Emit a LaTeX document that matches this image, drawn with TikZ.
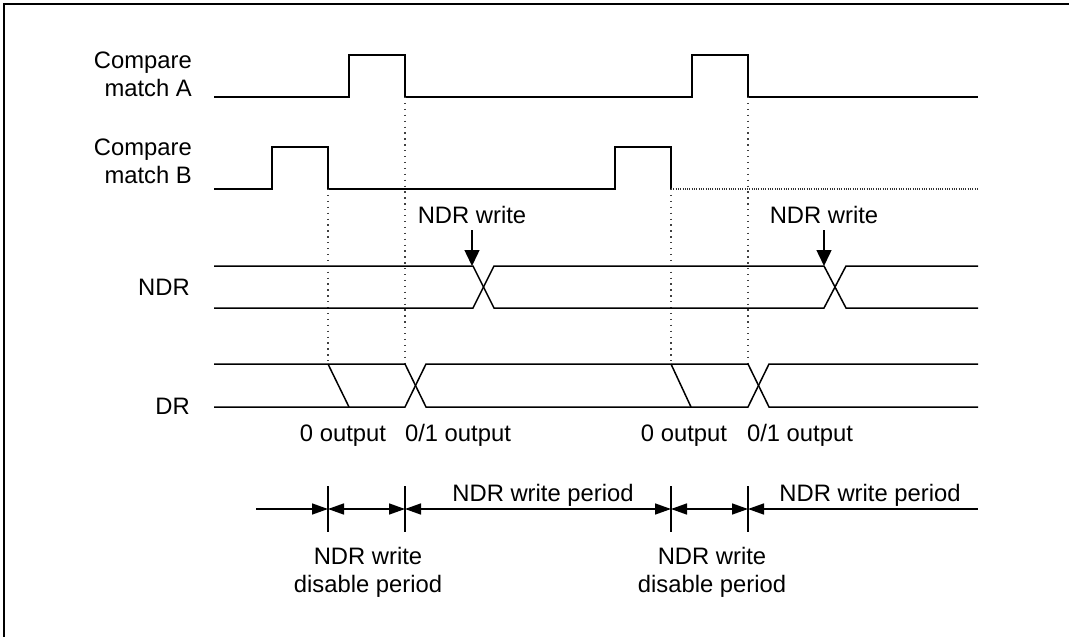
\documentclass[tikz,border=0pt]{standalone}
\usepackage{fontspec}
\setmainfont{Liberation Sans}
\usetikzlibrary{arrows.meta}
\begin{document}
\begin{tikzpicture}[x=1pt,y=-1pt,
 >={Triangle[length=16pt,width=11pt]},
 sig/.style={line width=1.5pt, line join=miter},
 guide/.style={line width=1.3pt, dash pattern=on 1.3pt off 4.6pt, black!75},
 fine/.style={line width=1.2pt, dash pattern=on 1pt off 1.3pt, black!80},
 lbl/.style={font=\fontsize{23.8}{28}\selectfont, inner sep=0pt},
 wtip/.style={-{Triangle[length=16pt,width=15pt]}},
]
\useasboundingbox (0,0) rectangle (1069,637);
\clip (0,0) rectangle (1069,637);
\draw[line width=2pt] (4.3,4.3) rectangle (1090,660);

% labels on the left
\node[lbl, anchor=east, align=right] (la) at (192,74) {Compare\\match A};
\node[lbl, anchor=east, align=right] (lb) at (192,161) {Compare\\match B};
\node[lbl, anchor=east] (lndr) at (190,287) {NDR};
\node[lbl, anchor=east] (ldr) at (190,406) {DR};

% Compare match A
\draw[sig] (214,97) -- (349,97) -- (349,55) -- (405,55) -- (405,97) -- (692,97) -- (692,55) -- (748,55) -- (748,97) -- (978,97);
% Compare match B
\draw[sig] (214,189) -- (272,189) -- (272,147) -- (328,147) -- (328,189) -- (615,189) -- (615,147) -- (671,147) -- (671,189);
\draw[fine] (671,189) -- (978,189);

% guides
\draw[guide] (328,189) -- (328,364);
\draw[guide] (405,97) -- (405,364);
\draw[guide] (671,189) -- (671,364);
\draw[guide] (748,97) -- (748,364);

% NDR
\draw[sig] (214,266) -- (473,266) -- (494,308) -- (824,308) -- (846,266) -- (978,266);
\draw[sig] (214,308) -- (473,308) -- (494,266) -- (824,266) -- (846,308) -- (978,308);

% DR
\draw[sig] (214,364) -- (405,364) -- (426,407) -- (748,407) -- (769,364) -- (978,364);
\draw[sig] (214,407) -- (405,407) -- (426,364) -- (748,364) -- (769,407) -- (978,407);
\draw[sig] (328,364) -- (349,407);
\draw[sig] (671,364) -- (691,407);

% NDR write arrows
\node[lbl, anchor=base] (w1) at (472,223) {NDR write};
\node[lbl, anchor=base] (w2) at (824,223) {NDR write};
\coordinate (x1) at (472,266);
\coordinate (x2) at (824,266);
\draw[sig, wtip] (w1.south) ++(0,7) -- (x1);
\draw[sig, wtip] (w2.south) ++(0,7) -- (x2);

% output labels
\node[lbl, anchor=base] (o1) at (343,441) {0 output};
\node[lbl, anchor=base] (o2) at (458,441) {0/1 output};
\node[lbl, anchor=base] (o3) at (684,441) {0 output};
\node[lbl, anchor=base] (o4) at (800,441) {0/1 output};

% period timeline
\coordinate (s) at (256,509);
\coordinate (t1) at (328,509);
\coordinate (t2) at (405,509);
\coordinate (t3) at (671,509);
\coordinate (t4) at (748,509);
\coordinate (e) at (978,509);
\foreach \t in {t1,t2,t3,t4} \draw[sig] (\t) ++(0,-23) -- ++(0,46);
\draw[sig, ->] (s) -- (t1);
\draw[sig, <->] (t1) -- (t2);
\draw[sig, <->] (t2) -- (t3);
\draw[sig, <->] (t3) -- (t4);
\draw[sig, <-] (t4) -- (e);

\node[lbl, anchor=base] (p1) at (543,501) {NDR write period};
\node[lbl, anchor=base] (p2) at (870,501) {NDR write period};
\node[lbl, align=center] (d1) at (368,572) {NDR write\\disable period};
\node[lbl, align=center] (d2) at (712,572) {NDR write\\disable period};
\end{tikzpicture}
\end{document}
